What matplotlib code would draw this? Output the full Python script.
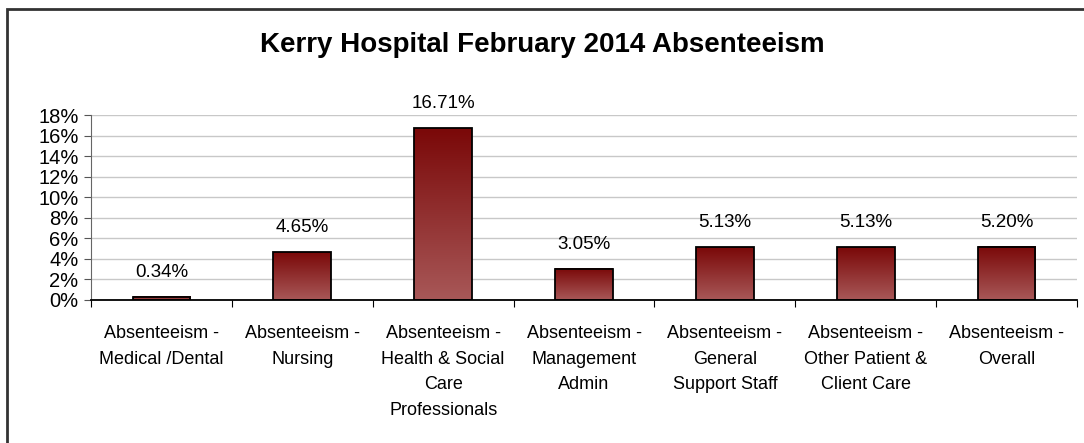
import matplotlib.pyplot as plt
import numpy as np
from matplotlib.colors import LinearSegmentedColormap
from matplotlib.patches import Rectangle

plt.rcParams['font.family'] = ['Liberation Sans', 'DejaVu Sans']

# Datos
categorias = ['Absenteeism -\nMedical /Dental',
              'Absenteeism -\nNursing',
              'Absenteeism -\nHealth & Social\nCare\nProfessionals',
              'Absenteeism -\nManagement\nAdmin',
              'Absenteeism -\nGeneral\nSupport Staff',
              'Absenteeism -\nOther Patient &\nClient Care',
              'Absenteeism -\nOverall']
valores = [0.34, 4.65, 16.71, 3.05, 5.13, 5.13, 5.20]
etiquetas = ['0.34%', '4.65%', '16.71%', '3.05%', '5.13%', '5.13%', '5.20%']
ticks_y = [0, 2, 4, 6, 8, 10, 12, 14, 16, 18]

fig = plt.figure(figsize=(10.84, 4.43), dpi=100)
ax = fig.add_axes([0.084, 0.3228, 0.9095, 0.4176])

# borde exterior del grafico
fig.patches.append(Rectangle((7 / 1084, -0.1), 1.2, 1 - 9 / 443 + 0.1, transform=fig.transFigure,
                             fill=False, edgecolor='#333333', linewidth=2))

x = np.arange(len(valores))
ancho = 0.41
cmap = LinearSegmentedColormap.from_list('rojo', ['#a85858', '#7a0808'])
grad = np.linspace(0, 1, 256).reshape(-1, 1)

barras = ax.bar(x, valores, width=ancho, facecolor='none', edgecolor='black', linewidth=1.3, zorder=3)
for b in barras:
    x0, y0 = b.get_x(), b.get_y()
    ax.imshow(grad, cmap=cmap, origin='lower', aspect='auto', zorder=2,
              extent=[x0, x0 + b.get_width(), y0, y0 + b.get_height()])

for xi, v, et in zip(x, valores, etiquetas):
    ax.annotate(et, (xi, v), xytext=(0, 17.5), textcoords='offset points',
                ha='center', va='center', fontsize=13.5)

ax.set_xlim(-0.5, len(valores) - 0.5)
ax.set_ylim(0, 18)
ax.set_yticks(ticks_y)
ax.set_yticklabels([f'{t}%' for t in ticks_y], fontsize=14.5)
ax.yaxis.grid(True, color='#c8c8c8', linewidth=1)
ax.set_axisbelow(True)

ax.set_xticks(np.arange(len(valores) + 1) - 0.5, minor=False)
ax.set_xticklabels([])
ax.tick_params(axis='x', length=5, color='black')
ax.tick_params(axis='y', length=5, color='#555555', pad=4)
for xi, cat in zip(x, categorias):
    ax.text(xi, -2.4, cat, ha='center', va='top', fontsize=13, linespacing=1.68)

for s in ['top', 'right']:
    ax.spines[s].set_visible(False)
ax.spines['left'].set_color('#666666')
ax.spines['bottom'].set_color('black')
ax.spines['bottom'].set_linewidth(1.3)

fig.text(0.5, 1 - 45 / 443, 'Kerry Hospital February 2014 Absenteeism', ha='center', va='center',
         fontsize=20, fontweight='bold')

fig.savefig('out.png', dpi=100)
